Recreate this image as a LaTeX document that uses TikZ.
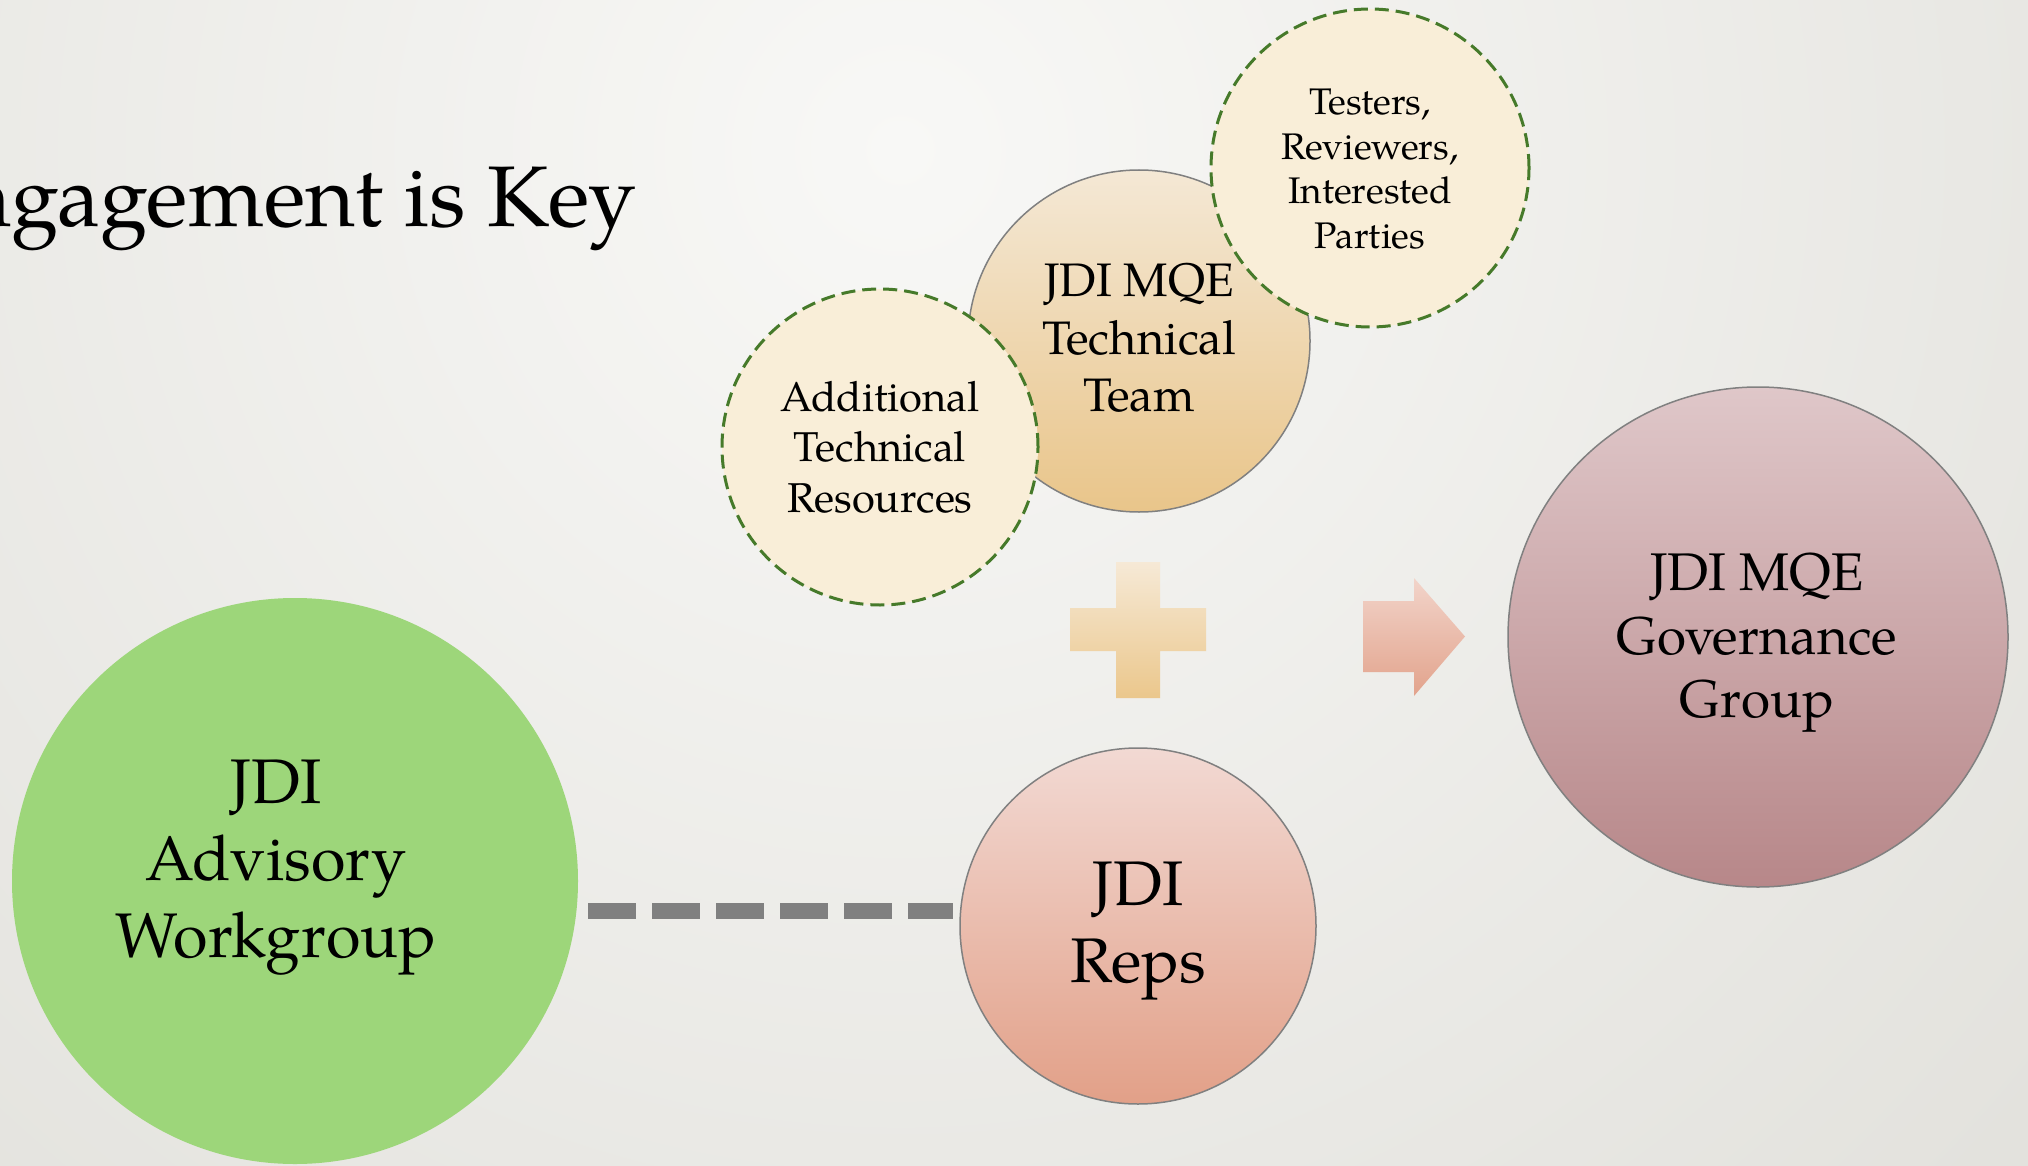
\documentclass[tikz,border=0pt]{standalone}
\usepackage{fontspec}
\setmainfont{TeX Gyre Pagella}
\definecolor{bgin}{HTML}{F8F8F6}
\definecolor{bgout}{HTML}{E2E1DC}
\definecolor{advgreen}{HTML}{9DD67A}
\definecolor{repsT}{HTML}{F2D9D3}
\definecolor{repsB}{HTML}{E2A088}
\definecolor{ttT}{HTML}{F4E8D5}
\definecolor{ttB}{HTML}{E9C58A}
\definecolor{cream}{HTML}{F9EED8}
\definecolor{dgreen}{HTML}{467A2A}
\definecolor{govT}{HTML}{DFC7C9}
\definecolor{govB}{HTML}{B78789}
\definecolor{plusT}{HTML}{F6E9D6}
\definecolor{plusB}{HTML}{EBC78C}
\definecolor{arrT}{HTML}{F2D4CA}
\definecolor{arrB}{HTML}{E2A38C}
\definecolor{rim}{HTML}{808080}
\begin{document}
\begin{tikzpicture}[x=1pt,y=-1pt,
  bub/.style={circle,inner sep=0pt,draw=rim,line width=1.5pt},
  dashbub/.style={circle,inner sep=0pt,fill=cream,draw=dgreen,line width=3pt,dash pattern=on 14pt off 7pt},
  txt/.style={align=center,inner sep=0pt,text=black},
  conn/.style={draw=rim,line width=16pt,dash pattern=on 48pt off 16pt}]
\useasboundingbox (0,0) rectangle (2028,1166);
\clip (0,0) rectangle (2028,1166);
\shade[inner color=bgin,outer color=bgout] (900,150) circle (1550);
% title
\node[anchor=base east,inner sep=0pt,font=\fontsize{86}{100}\selectfont] (title) at (636,227) {Engagement is Key};
% circles
\node[circle,inner sep=0pt,minimum size=566pt,fill=advgreen] (adv) at (295,881) {};
\node[bub,minimum size=356pt,top color=repsT,bottom color=repsB] (reps) at (1138,926) {};
\node[bub,minimum size=342pt,top color=ttT,bottom color=ttB] (tt) at (1139,341) {};
\node[dashbub,minimum size=316pt] (add) at (880,447) {};
\node[dashbub,minimum size=318pt] (test) at (1370,168) {};
\node[bub,minimum size=500pt,top color=govT,bottom color=govB] (gov) at (1758,637) {};
% plus sign
\shade[top color=plusT,bottom color=plusB]
  (1116,562) -- (1160,562) -- (1160,608) -- (1206,608) -- (1206,651) -- (1160,651)
  -- (1160,698) -- (1116,698) -- (1116,651) -- (1070,651) -- (1070,608) -- (1116,608) -- cycle;
% arrow
\shade[top color=arrT,bottom color=arrB]
  (1363,601) -- (1414,601) -- (1414,578) -- (1465,636.5) -- (1414,696) -- (1414,672) -- (1363,672) -- cycle;
% connector
\draw[conn] ([xshift=10pt,yshift=-30pt]adv.east) -- ([xshift=-6pt,yshift=15pt]reps.west);
% texts
\node[txt,font=\fontsize{63}{77}\selectfont] (advt) at (276,868) {JDI\\Advisory\\Workgroup};
\node[txt,font=\fontsize{63}{77}\selectfont] (repst) at (1138,931) {JDI\\Reps};
\node[txt,font=\fontsize{53}{63.5}\selectfont] (govt) at (1757,643) {JDI MQE\\Governance\\Group};
\node[txt,font=\fontsize{47}{57.5}\selectfont] (ttt) at (1139,338) {JDI MQE\\Technical\\Team};
\node[txt,font=\fontsize{41.7}{50.5}\selectfont] (addt) at (880,447) {Additional\\Technical\\Resources};
\node[txt,font=\fontsize{37}{44.4}\selectfont] (testt) at (1370,169) {Testers,\\Reviewers,\\Interested\\Parties};
\end{tikzpicture}
\end{document}
